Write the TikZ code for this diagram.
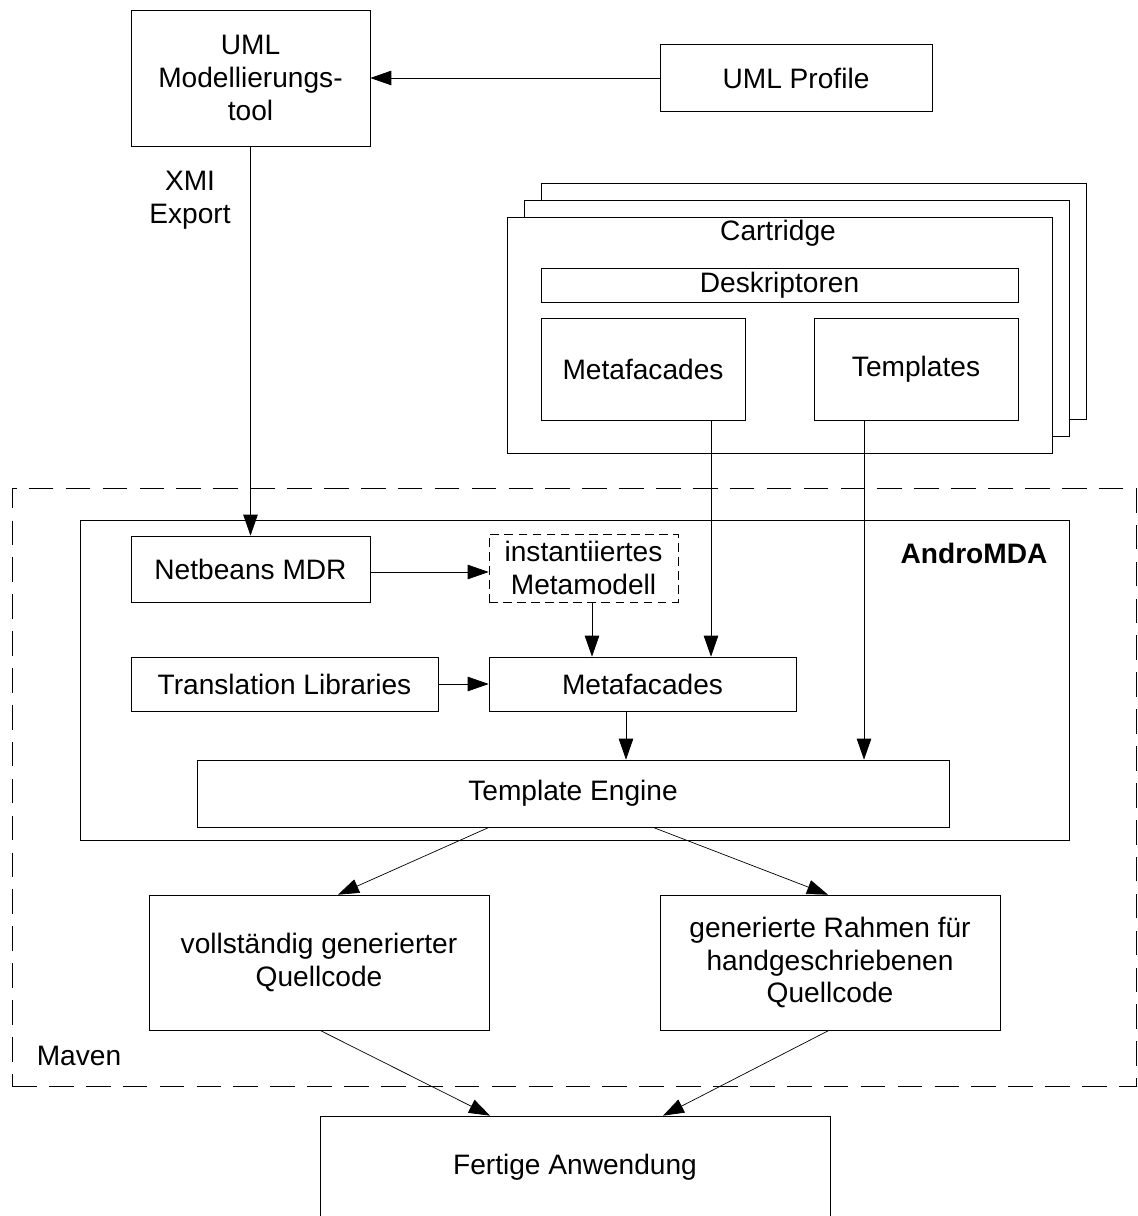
\documentclass[tikz,border=0pt]{standalone}
\usepackage{fontspec}
\setmainfont{Liberation Sans}
\usetikzlibrary{arrows.meta, positioning}
\tikzset{->,>={Triangle[length=4.2mm,width=2.9mm]},
    line width=1.1pt, x=0.02cm, y=-0.02cm,
    every node/.style={font=\fontsize{16}{18.7}\selectfont},
    box/.style={rectangle,draw,fill=white,align=center,inner sep=1pt},
    dashbox/.style={box,dash pattern=on 5pt off 3pt},
    cartbox/.style={rectangle,draw,fill=white,minimum width=10.9cm,minimum height=4.72cm},
    mavenframe/.style={rectangle,draw,dash pattern=on 14pt off 7pt,minimum width=22.48cm,minimum height=11.96cm},
    androframe/.style={rectangle,draw,minimum width=19.78cm,minimum height=6.4cm},
    textnode/.style={align=center}}

\begin{document}
\begin{tikzpicture}
\clip (0,0) rectangle (1138,1216);

% frames
\node[mavenframe]  (maven)    at (574,787)   {};
\node[androframe]  (andromda) at (574.5,680) {};
\node[textnode]    (mavenlbl) at (79,1056)   {Maven};
\node[textnode, font=\fontsize{16}{18.7}\selectfont\bfseries] (androlbl) at (974,553) {AndroMDA};

% modelling tool
\node[box, minimum width=4.78cm, minimum height=2.72cm] (uml)     at (250.5,78)  {UML\\Modellierungs-\\tool};
\node[box, minimum width=5.44cm, minimum height=1.34cm] (profile) at (796,78)    {UML Profile};
\node[textnode]                                         (xmi)     at (190,200)   {XMI\\Export};

% cartridge stack
\node[cartbox]  (cart3)   at (813.5,301.5) {};
\node[cartbox]  (cart2)   at (796.5,318.5) {};
\node[cartbox]  (cart1)   at (779.5,335)   {};
\node[textnode] (cartlbl) at (778,233)     {Cartridge};
\node[box, minimum width=9.54cm, minimum height=0.68cm] (deskr)  at (779.5,285) {Deskriptoren};
\node[box, minimum width=4.08cm, minimum height=2.04cm] (cmeta)  at (643,369)   {Metafacades};
\node[box, minimum width=4.08cm, minimum height=2.04cm] (ctempl) at (916,369)   {Templates};

% AndroMDA
\node[box,     minimum width=4.78cm,  minimum height=1.32cm] (mdr)        at (250.5,569) {Netbeans MDR};
\node[dashbox, minimum width=3.78cm,  minimum height=1.36cm] (metamodell) at (583.5,568) {instantiiertes\\Metamodell};
\node[box,     minimum width=6.14cm,  minimum height=1.08cm] (translib)   at (284.5,684) {Translation Libraries};
\node[box,     minimum width=6.14cm,  minimum height=1.08cm] (metafac)    at (642.5,684) {Metafacades};
\node[box,     minimum width=15.04cm, minimum height=1.34cm] (engine)     at (573,793.5) {Template Engine};

% results
\node[box, minimum width=6.8cm,  minimum height=2.7cm]  (voll)   at (319,962.5) {vollständig generierter\\Quellcode};
\node[box, minimum width=6.8cm,  minimum height=2.7cm]  (rahmen) at (830,962.5) {generierte Rahmen für\\handgeschriebenen\\Quellcode};
\node[box, minimum width=10.2cm, minimum height=2.04cm] (fertig) at (575,1167)  {Fertige Anwendung};

\path
    (profile.west)            edge (uml.east)
    (uml.south)               edge (mdr.north)
    (mdr.east |- 0,572)       edge (metamodell.west |- 0,572)
    (metamodell.south -| 592,0) edge (metafac.north -| 592,0)
    (translib.east)           edge (metafac.west)
    (cmeta.south -| 711,0)    edge (metafac.north -| 711,0)
    (ctempl.south -| 864,0)   edge (engine.north -| 864,0)
    (metafac.south -| 626,0)  edge (engine.north -| 626,0)
    (engine.south -| 489,0)   edge (voll.north -| 338,0)
    (engine.south -| 653,0)   edge (rahmen.north -| 828,0)
    (voll.south -| 320,0)     edge (fertig.north -| 490,0)
    (rahmen.south -| 829,0)   edge (fertig.north -| 663,0);
\end{tikzpicture}
\end{document}
